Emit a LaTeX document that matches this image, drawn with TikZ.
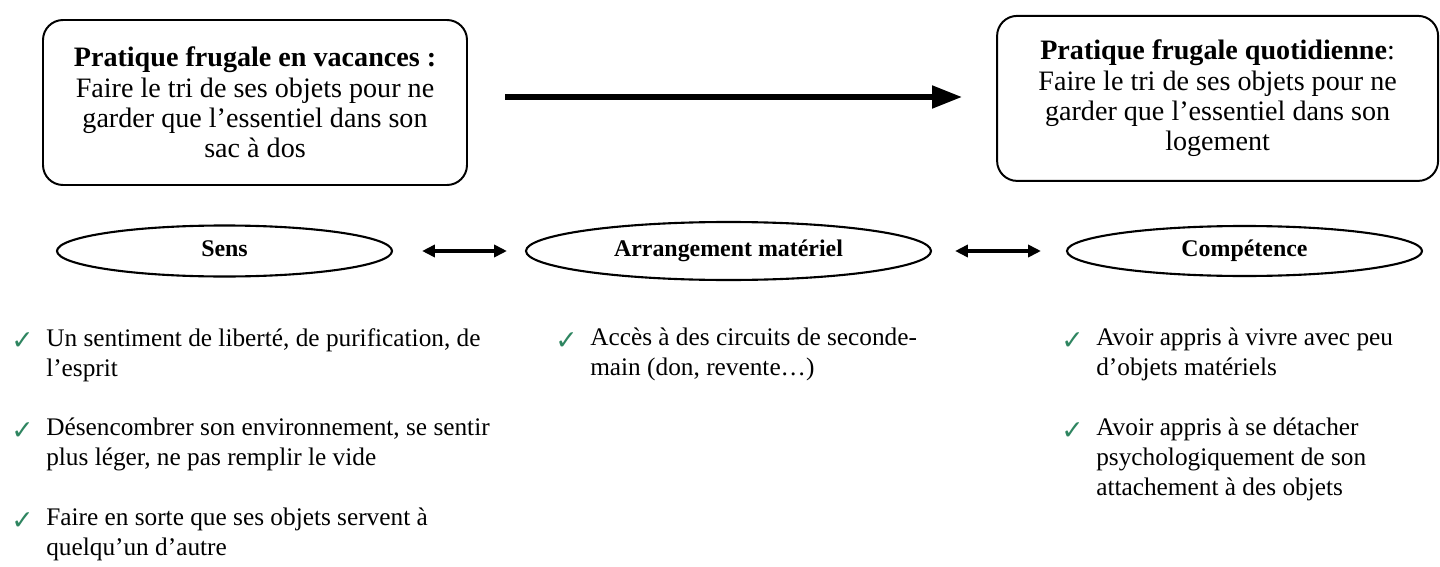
\documentclass[tikz,border=0pt]{standalone}
\usepackage{fontspec}
\setmainfont{Liberation Serif}
\newfontfamily\symfont{DejaVu Sans}
\usepackage{tikz}
\usetikzlibrary{shapes.geometric,arrows.meta}
\definecolor{mycheckcolor}{HTML}{2E8560}
\tikzset{
  pratbox/.style={draw, line width=1.4pt, rounded corners=0.5cm, align=center, minimum height=4.125cm, font=\fontsize{20pt}{21.5pt}\selectfont},
  dimell/.style={draw, ellipse, line width=1.5pt, inner sep=0pt, text height=12pt, text depth=3.5pt, font=\fontsize{17pt}{17pt}\selectfont\bfseries},
  itemtxt/.style={anchor=north west, inner sep=0pt, align=left, font=\fontsize{18pt}{21.3pt}\selectfont},
  chkmark/.style={anchor=north east, inner sep=0pt, text=mycheckcolor, font=\symfont\fontsize{19pt}{19pt}\selectfont},
  bigarrow/.style={line width=0.13cm, -{Triangle[length=0.75cm,width=0.55cm]}},
  dblarrow/.style={line width=0.08cm, {Triangle[length=0.32cm,width=0.3cm]}-{Triangle[length=0.32cm,width=0.3cm]}}
}

\begin{document}
\begin{tikzpicture}%
\useasboundingbox (0,0) rectangle (36,-14.175);%
% top boxes
\node[pratbox, minimum width=10.6cm] (vac) at (6.375, -2.5625) {\textbf{Pratique frugale en vacances :}\\Faire le tri de ses objets pour ne\\garder que l’essentiel dans son\\sac à dos};%
\node[pratbox, minimum width=11.025cm] (quot) at (30.44, -2.46) {\textbf{Pratique frugale quotidienne}:\\Faire le tri de ses objets pour ne\\garder que l’essentiel dans son\\logement};%
\coordinate (ta) at (12.625, -2.425);%
\coordinate (tb) at (24.05, -2.425);%
\draw[bigarrow] (ta) -- (tb);%
% ellipses
\node[dimell, minimum width=8.375cm, minimum height=1.275cm] (sens) at (5.6125, -6.275) {Sens};%
\node[dimell, minimum width=10.125cm, minimum height=1.45cm] (arr) at (18.2125, -6.275) {Arrangement matériel};%
\node[dimell, minimum width=8.875cm, minimum height=1.25cm] (comp) at (31.1125, -6.275) {Compétence};%
\draw[dblarrow, shorten <=0.725cm, shorten >=0.45cm] (sens) -- (arr);%
\draw[dblarrow, shorten <=0.575cm, shorten >=0.625cm] (arr) -- (comp);%
% items
\node[itemtxt] (s1) at (1.15, -8.2) {Un sentiment de liberté, de purification, de\\l’esprit};%
\node[itemtxt] (s2) at (1.15, -10.45) {Désencombrer son environnement, se sentir\\plus léger, ne pas remplir le vide};%
\node[itemtxt] (s3) at (1.15, -12.7) {Faire en sorte que ses objets servent à\\quelqu’un d’autre};%
\node[itemtxt] (a1) at (14.75, -8.2) {Accès à des circuits de seconde-\\main (don, revente…)};%
\node[itemtxt] (k1) at (27.4, -8.2) {Avoir appris à vivre avec peu\\d’objets matériels};%
\node[itemtxt] (k2) at (27.4, -10.45) {Avoir appris à se détacher\\psychologiquement de son\\attachement à des objets};%
\foreach \it in {s1,s2,s3,a1,k1,k2}{%
  \node[chkmark] (c\it) at ([xshift=-0.3cm, yshift=-0.12cm]\it.north west) {✓};%
}%
\end{tikzpicture}
\end{document}
